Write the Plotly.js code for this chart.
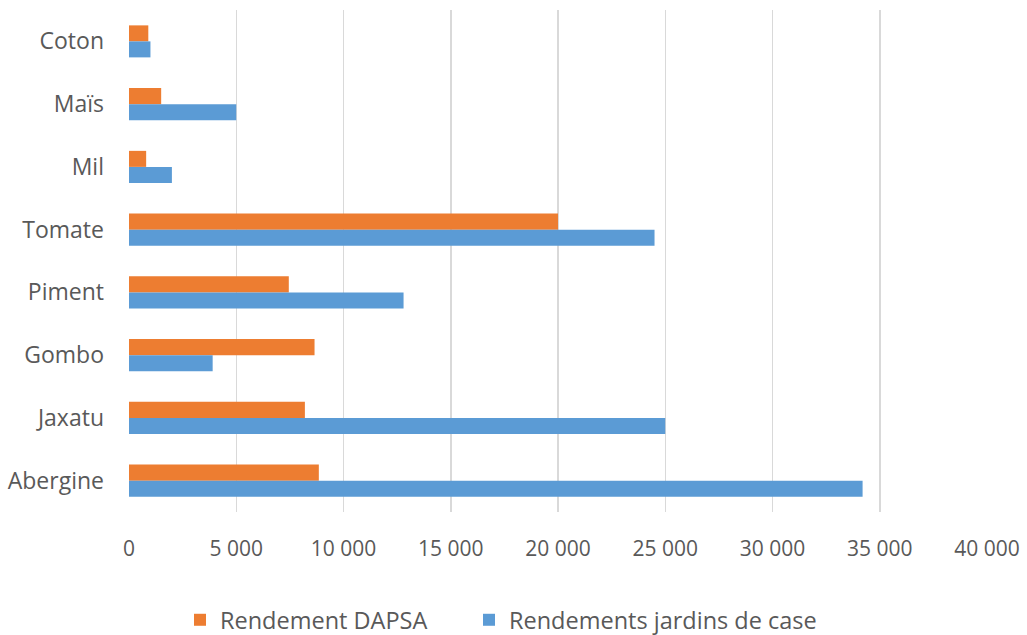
<!DOCTYPE html>
<html>
<head>
<meta charset="utf-8">
<script src="https://cdn.plot.ly/plotly-3.0.1.min.js"></script>
<style>html,body{margin:0;padding:0;background:#fff;}#chart{width:1027px;height:635px;}</style>
</head>
<body>
<div id="chart"></div>
<script>
// Categories listed top to bottom
const categories = ["Coton", "Maïs", "Mil", "Tomate", "Piment", "Gombo", "Jaxatu", "Abergine"];
const seriesNames = ["Rendement DAPSA", "Rendements jardins de case"];
const rendementDAPSA = [900, 1500, 800, 20000, 7450, 8650, 8200, 8850];
const rendementsJardins = [1000, 5000, 2000, 24500, 12800, 3900, 25000, 34200];
const xTicks = [0, 5000, 10000, 15000, 20000, 25000, 30000, 35000, 40000];

const fam = "Open Sans, Noto Sans, sans-serif";
const grey = "#595959";

const traces = [
  {type: "bar", orientation: "h", name: seriesNames[0], y: categories, x: rendementDAPSA,
   marker: {color: "#ED7D31"}, hoverinfo: "x+name", legend: "legend"},
  {type: "bar", orientation: "h", name: seriesNames[1], y: categories, x: rendementsJardins,
   marker: {color: "#5B9BD5"}, hoverinfo: "x+name", legend: "legend2"}
];

const legendFont = {family: fam, color: grey, size: 23.5};

const layout = {
  width: 1027, height: 635,
  margin: {l: 129, r: 40, t: 10, b: 123},
  paper_bgcolor: "#fff", plot_bgcolor: "#fff",
  font: {family: fam, color: grey, size: 20},
  separators: ", ",
  barmode: "group",
  bargap: 0.49,
  bargroupgap: 0,
  xaxis: {
    range: [0, 40000], tickvals: xTicks, tickformat: ",d",
    showgrid: true, gridcolor: "#D9D9D9", gridwidth: 1.5,
    zeroline: false, showline: false, ticks: "", ticklabelstandoff: 22,
    automargin: false,
    tickfont: {family: fam, color: grey, size: 21}
  },
  yaxis: {
    type: "category", autorange: "reversed",
    showgrid: false, zeroline: false, showline: false, ticks: "",
    ticklabelstandoff: 24, automargin: false,
    tickfont: {family: fam, color: grey, size: 23}
  },
  legend: {orientation: "h", xref: "container", yref: "container",
           x: 180/1027, xanchor: "left", y: 1 - 620/635, yanchor: "middle",
           font: legendFont, itemwidth: 30},
  legend2: {orientation: "h", xref: "container", yref: "container",
           x: 469/1027, xanchor: "left", y: 1 - 620/635, yanchor: "middle",
           font: legendFont, itemwidth: 30},
  showlegend: true
};

Plotly.newPlot("chart", traces, layout, {displayModeBar: false, staticPlot: true});
</script>
</body>
</html>
